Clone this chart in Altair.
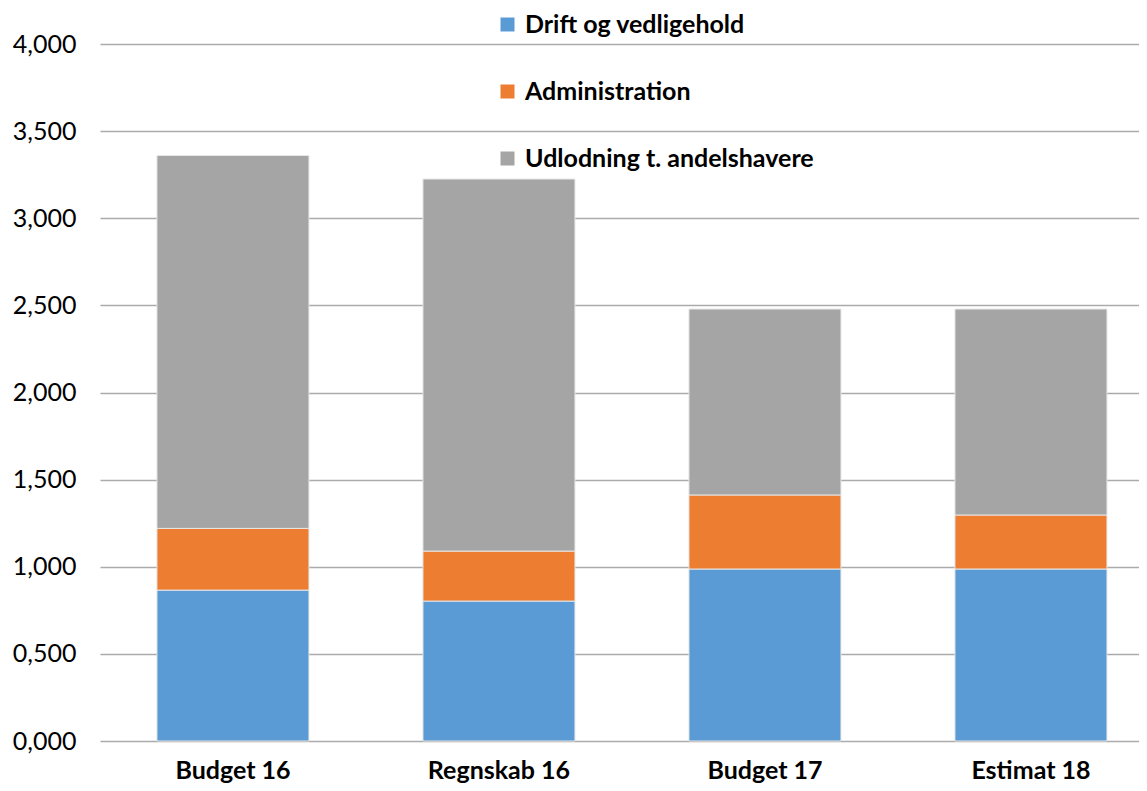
import altair as alt
import pandas as pd

categories = ["Budget 16", "Regnskab 16", "Budget 17", "Estimat 18"]
series = ["Drift og vedligehold", "Administration", "Udlodning t. andelshavere"]
drift = [0.866, 0.803, 0.987, 0.987]
admin = [0.354, 0.287, 0.425, 0.310]
udlodning = [2.140, 2.135, 1.067, 1.182]
colors = ["#5b9bd5", "#ed7d31", "#a5a5a5"]

rows = []
for i, c in enumerate(categories):
    for j, (s, vals) in enumerate(zip(series, [drift, admin, udlodning])):
        rows.append({"Kategori": c, "Serie": s, "Værdi": vals[i], "orden": j})
df = pd.DataFrame(rows)

FONT = "Lato"

chart = alt.Chart(df).mark_bar(stroke="#e6e6e6", strokeWidth=1).encode(
    x=alt.X("Kategori:N", sort=categories, title=None,
            scale=alt.Scale(paddingInner=0.4286, paddingOuter=0.1673, align=0.64),
            axis=alt.Axis(labelAngle=0, labelFontWeight="bold", labelFontSize=25,
                          labelFont=FONT, labelColor="black", labelPadding=17,
                          ticks=False, domain=False, grid=False)),
    y=alt.Y("Værdi:Q", stack="zero", title=None,
            scale=alt.Scale(domain=[0, 4], nice=False),
            axis=alt.Axis(values=[0, 0.5, 1, 1.5, 2, 2.5, 3, 3.5, 4],
                          labelExpr="replace(format(datum.value, '.3f'), '.', ',')",
                          labelFontSize=25, labelFont=FONT, labelColor="black",
                          labelPadding=24, ticks=False, domain=False,
                          gridColor="#ababab", gridWidth=1.3)),
    color=alt.Color("Serie:N", sort=series,
                    scale=alt.Scale(domain=series, range=colors),
                    legend=alt.Legend(title=None, orient="none", legendX=395, legendY=-32,
                                      direction="vertical", symbolType="square",
                                      symbolSize=196, symbolStrokeWidth=0,
                                      labelFontSize=25, labelFont=FONT, labelLimit=500,
                                      labelFontWeight="bold", labelColor="black",
                                      rowPadding=41, padding=0, labelOffset=5)),
    order=alt.Order("orden:Q", sort="ascending"),
).properties(
    width=1039, height=697,
    autosize=alt.AutoSizeParams(type="none"),
    padding={"left": 92, "top": 36, "right": 0, "bottom": 42},
).configure_view(stroke=None)

chart.save("out.html", embed_options={"renderer": "svg", "actions": False})
